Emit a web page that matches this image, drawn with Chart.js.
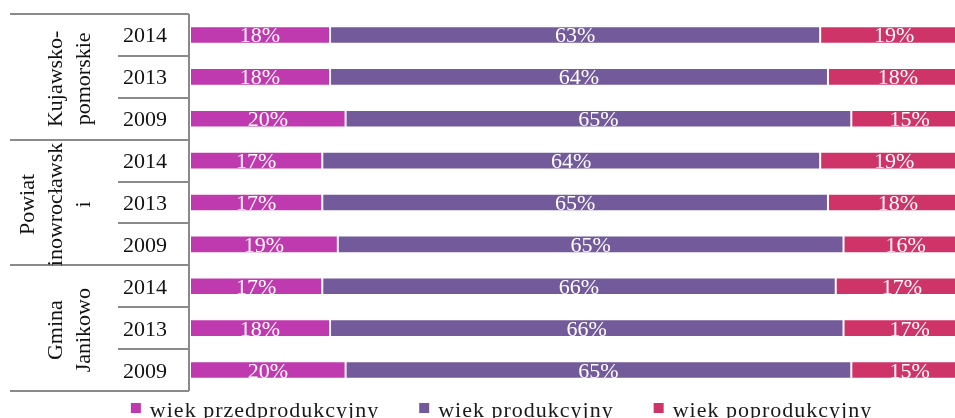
<!DOCTYPE html>
<html>
<head>
<meta charset="utf-8">
<script src="https://cdn.jsdelivr.net/npm/chart.js"></script>
<style>
  html, body { margin: 0; padding: 0; background: #fff; overflow: hidden; }
  #wrap { position: relative; width: 968px; height: 418px; }
</style>
</head>
<body>
<div id="wrap"><canvas id="ageChart"></canvas></div>
<script>
// rows from top to bottom
const years = ['2014', '2013', '2009', '2014', '2013', '2009', '2014', '2013', '2009'];
const groupNames = [['Kujawsko-', 'pomorskie'], ['Powiat', 'inowrocławsk', 'i'], ['Gmina', 'Janikowo']];
const seriesNames = ['wiek przedprodukcyjny', 'wiek produkcyjny', 'wiek poprodukcyjny'];
const przedprodukcyjny = [18, 18, 20, 17, 17, 19, 17, 18, 20];
const produkcyjny = [63, 64, 65, 64, 65, 65, 66, 66, 65];
const poprodukcyjny = [19, 18, 15, 19, 18, 16, 17, 17, 15];
const colors = ['#c03aaf', '#735a9a', '#cf3468'];

const SERIF = '"Liberation Serif", "DejaVu Serif", serif';

// percent labels inside the segments
const valueLabels = {
  id: 'valueLabels',
  afterDatasetsDraw(chart) {
    const ctx = chart.ctx;
    ctx.save();
    ctx.font = '22px ' + SERIF;
    ctx.fillStyle = '#ffffff';
    ctx.textAlign = 'center';
    ctx.textBaseline = 'alphabetic';
    chart.data.datasets.forEach((ds, di) => {
      chart.getDatasetMeta(di).data.forEach((bar, i) => {
        const p = bar.getCenterPoint();
        ctx.fillText(ds.data[i] + '%', p.x, p.y + 7.5);
      });
    });
    ctx.restore();
  }
};

// the two-level category table on the left + legend below
const sideTable = {
  id: 'sideTable',
  afterDraw(chart) {
    const ctx = chart.ctx;
    const a = chart.chartArea;
    const y = chart.scales.y;
    const step = y.getPixelForValue(1) - y.getPixelForValue(0);
    const edge = i => y.getPixelForValue(i) - step / 2;

    ctx.save();
    ctx.strokeStyle = '#8a8a8a';
    ctx.lineWidth = 2;
    ctx.beginPath();
    ctx.moveTo(a.left - 1, edge(0));
    ctx.lineTo(a.left - 1, edge(years.length));
    for (let i = 0; i <= years.length; i++) {
      const yy = Math.round(edge(i));
      ctx.moveTo(i % 3 === 0 ? 10 : 118, yy);
      ctx.lineTo(a.left - 1, yy);
    }
    ctx.stroke();

    // year labels
    ctx.fillStyle = '#111';
    ctx.font = '22px ' + SERIF;
    ctx.textAlign = 'center';
    years.forEach((yr, i) => {
      ctx.fillText(yr, 145, y.getPixelForValue(i) + 7.5);
    });

    // group labels, rotated
    groupNames.forEach((lines, g) => {
      const cy = (edge(g * 3) + edge(g * 3 + 3)) / 2 + 2;
      lines.forEach((txt, k) => {
        const bx = 90 - (lines.length - 1 - k) * 28;
        ctx.save();
        ctx.translate(bx, cy);
        ctx.rotate(-Math.PI / 2);
        ctx.fillText(txt, 0, 0);
        ctx.restore();
      });
    });

    // legend
    ctx.font = '22px ' + SERIF;
    ctx.letterSpacing = '1px';
    ctx.textAlign = 'left';
    const box = 10, gapText = 9, gapItem = 40;
    const widths = seriesNames.map(s => ctx.measureText(s).width);
    const total = widths.reduce((s, w) => s + box + gapText + w, 0) + gapItem * (seriesNames.length - 1);
    let x = 501.5 - total / 2;
    seriesNames.forEach((s, i) => {
      ctx.fillStyle = colors[i];
      ctx.fillRect(x, 403, box, box);
      ctx.fillStyle = '#1a1a1a';
      ctx.fillText(s, x + box + gapText, 417);
      x += box + gapText + widths[i] + gapItem;
    });
    ctx.restore();
  }
};

const seriesData = [przedprodukcyjny, produkcyjny, poprodukcyjny];

new Chart(document.getElementById('ageChart'), {
  type: 'bar',
  data: {
    labels: years,
    datasets: seriesNames.map((name, i) => ({
      label: name,
      data: seriesData[i],
      backgroundColor: colors[i],
      borderColor: 'rgba(255,255,255,0.45)',
      borderWidth: 1,
      borderSkipped: false,
      categoryPercentage: 1,
      barPercentage: 0.42
    }))
  },
  options: {
    indexAxis: 'y',
    responsive: true,
    maintainAspectRatio: false,
    animation: false,
    layout: { padding: { left: 190, top: 14, bottom: 27, right: 0 } },
    scales: {
      x: { stacked: true, min: 0, max: 100, display: false },
      y: { stacked: true, display: false }
    },
    plugins: {
      legend: { display: false },
      tooltip: { enabled: false }
    }
  },
  plugins: [valueLabels, sideTable]
});
</script>
</body>
</html>
